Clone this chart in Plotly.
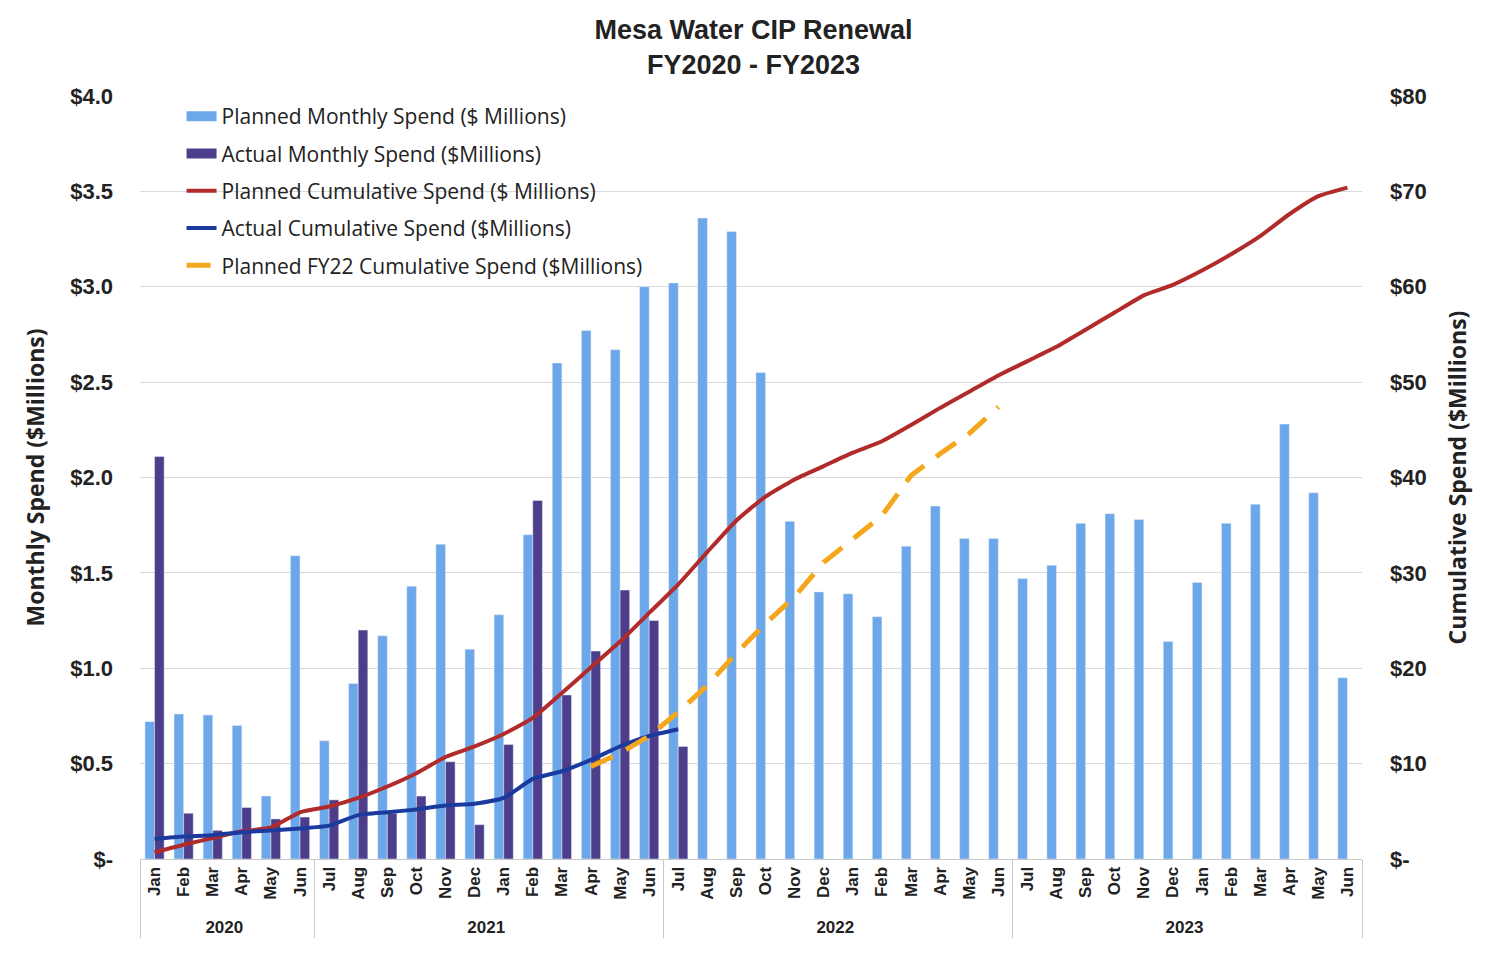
import plotly.graph_objects as go

# ---------------- data ----------------
ZW = "\u200b"  # keeps FY second-half month names distinct inside the multicategory axis
years = ["2020"] * 6 + ["2021"] * 12 + ["2022"] * 12 + ["2023"] * 12
fy_first_half = ["Jul", "Aug", "Sep", "Oct", "Nov", "Dec"]
fy_second_half = ["Jan", "Feb", "Mar", "Apr", "May", "Jun"]
months = fy_second_half + (fy_first_half + [m + ZW for m in fy_second_half]) * 3

planned_monthly = [0.72, 0.76, 0.755, 0.70, 0.33, 1.59,
                   0.62, 0.92, 1.17, 1.43, 1.65, 1.10, 1.28, 1.70, 2.60, 2.77, 2.67, 3.00,
                   3.02, 3.36, 3.29, 2.55, 1.77, 1.40, 1.39, 1.27, 1.64, 1.85, 1.68, 1.68,
                   1.47, 1.54, 1.76, 1.81, 1.78, 1.14, 1.45, 1.76, 1.86, 2.28, 1.92, 0.95]

actual_monthly = [2.11, 0.24, 0.15, 0.27, 0.21, 0.22,
                  0.31, 1.20, 0.24, 0.33, 0.51, 0.18, 0.60, 1.88, 0.86, 1.09, 1.41, 1.25,
                  0.59]

planned_cumulative = [0.7, 1.5, 2.2, 2.9, 3.3, 4.9,
                      5.5, 6.4, 7.6, 9.0, 10.7, 11.8, 13.1, 14.8, 17.4, 20.1, 22.8, 25.8,
                      28.8, 32.2, 35.5, 38.0, 39.8, 41.2, 42.6, 43.8, 45.5, 47.3, 49.0, 50.7,
                      52.2, 53.7, 55.5, 57.3, 59.1, 60.2, 61.7, 63.4, 65.3, 67.6, 69.5, 70.4]

actual_cumulative = [2.1, 2.35, 2.5, 2.8, 3.0, 3.2,
                     3.5, 4.6, 4.9, 5.2, 5.6, 5.8, 6.4, 8.4, 9.2, 10.4, 11.8, 12.9,
                     13.6]

fy22_start = 15  # Apr 2021
planned_fy22_cumulative = [9.7, 11.1, 12.9, 15.4, 18.2, 21.6, 24.7, 27.5,
                           31.1, 33.6, 36.0, 40.2, 42.5, 44.6, 47.4]

left_tickvals = [0, 0.5, 1.0, 1.5, 2.0, 2.5, 3.0, 3.5, 4.0]
left_ticktext = ["$-", "$0.5", "$1.0", "$1.5", "$2.0", "$2.5", "$3.0", "$3.5", "$4.0"]
right_tickvals = [0, 10, 20, 30, 40, 50, 60, 70, 80]
right_ticktext = ["$-", "$10", "$20", "$30", "$40", "$50", "$60", "$70", "$80"]

title_text = "Mesa Water CIP Renewal<br>FY2020 - FY2023"
names = ["Planned Monthly Spend ($ Millions)", "Actual Monthly Spend ($Millions)",
         "Planned Cumulative Spend ($ Millions)", "Actual Cumulative Spend ($Millions)",
         "Planned FY22 Cumulative Spend ($Millions)"]

# ---------------- styles ----------------
c_plan_bar, c_act_bar = "#6CA7EA", "#4D3E8C"
c_red, c_blue, c_orange = "#B22B2B", "#1A3A9E", "#F4A71D"
orange_dash = "24px,15px"

# ---------------- figure ----------------
def xs(a, b=None):
    return [years[a:b], months[a:b]]

n_act = len(actual_monthly)
fy22_end = fy22_start + len(planned_fy22_cumulative)

fig = go.Figure()
fig.add_trace(go.Bar(x=xs(0), y=planned_monthly, name=names[0],
                     marker_color=c_plan_bar, showlegend=False))
fig.add_trace(go.Bar(x=xs(0, n_act), y=actual_monthly, name=names[1],
                     marker_color=c_act_bar, showlegend=False))
fig.add_trace(go.Scatter(x=xs(0), y=planned_cumulative, yaxis="y2", mode="lines",
                         name=names[2], showlegend=False,
                         line=dict(color=c_red, width=4, shape="spline", smoothing=0.5)))
fig.add_trace(go.Scatter(x=xs(0, n_act), y=actual_cumulative, yaxis="y2", mode="lines",
                         name=names[3], showlegend=False,
                         line=dict(color=c_blue, width=4, shape="spline", smoothing=0.5)))
fig.add_trace(go.Scatter(x=xs(fy22_start, fy22_end), y=planned_fy22_cumulative, yaxis="y2",
                         mode="lines", name=names[4], showlegend=False,
                         line=dict(color=c_orange, width=5, dash=orange_dash)))

# legend entries (Excel-style wide swatches)
legend_styles = [dict(color=c_plan_bar, width=13), dict(color=c_act_bar, width=13),
                 dict(color=c_red, width=4), dict(color=c_blue, width=4),
                 dict(color=c_orange, width=5, dash=orange_dash)]
for i, (nm, ls) in enumerate(zip(names, legend_styles)):
    fig.add_trace(go.Scatter(x=[None], y=[None], mode="lines", name=nm, line=ls,
                             legendgroup=f"g{i}", hoverinfo="skip"))

tick_font = dict(family="Liberation Sans, Arial", size=22, color="#222222", weight="bold")
axis_title_font = dict(family="Open Sans", size=23, color="#222222", weight="bold")

fig.update_layout(
    width=1491, height=947,
    margin=dict(l=132, r=137, t=88, b=96, autoexpand=False),
    paper_bgcolor="white", plot_bgcolor="white",
    barmode="group", bargap=0.34, bargroupgap=0.0,
    title=dict(text=title_text, x=0.5, xanchor="center", y=1 - 31 / 947, yanchor="top",
               font=dict(family="Liberation Sans, Arial", size=27, color="#222222", weight="bold")),
    legend=dict(x=0.034, y=1.0, xanchor="left", yanchor="top", bgcolor="rgba(0,0,0,0)",
                font=dict(family="Open Sans", size=21, color="#222222"),
                tracegroupgap=7, itemwidth=30, traceorder="grouped"),
    xaxis=dict(type="multicategory", tickangle=-90, showgrid=False, showline=True,
               linecolor="#c8c8c8", linewidth=1, ticks="",
               dividercolor="#c8c8c8", dividerwidth=1,
               tickfont=dict(family="Liberation Sans, Arial", size=17, color="#222222", weight="bold")),
    yaxis=dict(range=[0, 4], tickvals=left_tickvals, ticktext=left_ticktext,
               showgrid=True, gridcolor="#d9d9d9", gridwidth=1, zeroline=False,
               ticks="", ticklabelstandoff=26, tickfont=tick_font,
               title=dict(text="Monthly Spend ($Millions)", standoff=19, font=axis_title_font)),
    yaxis2=dict(range=[0, 80], tickvals=right_tickvals, ticktext=right_ticktext,
                overlaying="y", side="right", showgrid=False, zeroline=False,
                ticks="", ticklabelstandoff=27, tickfont=tick_font,
                title=dict(text="Cumulative Spend ($Millions)", standoff=24, font=axis_title_font)),
)

fig.write_html("out.html")
